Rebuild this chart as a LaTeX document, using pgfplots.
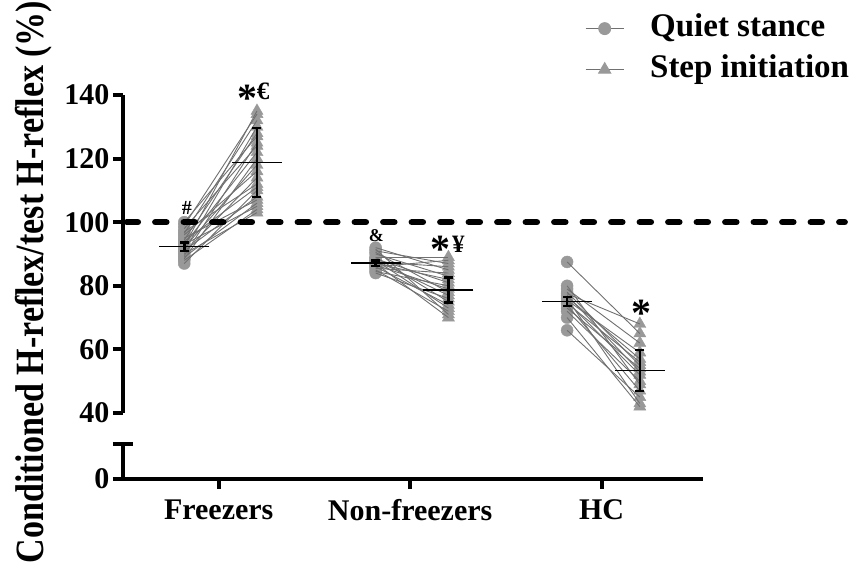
\documentclass[border=0pt]{standalone}
\usepackage{fontspec}
\setmainfont{Liberation Serif}
\usepackage{graphicx}
\usepackage{pgfplots}
\usepackage{pgfplotstable}
\pgfplotsset{compat=1.18}

\definecolor{dot}{gray}{0.60}
\definecolor{pair}{gray}{0.44}

% individual subjects: q = quiet stance, s = step initiation
\pgfplotstableread{
q s
87 110
88 104
88.5 120
89 106
89.5 125
90 103
90.5 114
91 130
91 108
92 118
92.5 135
93 105
93 122
94 111
94.5 128
95 107
96 116
96.5 132
97 112
98 124
99 134
100 127
}\freezers
\pgfplotstableread{
q s
84 76
84.5 80
85 72
85.5 84
86 88
86 74
86.5 79
87 70
87 82
87.5 86
88 77
88 73
88.5 81
89 89
89 75
90 83
90.5 78
91 87
91.5 71
92 85
}\nonfreezers
\pgfplotstableread{
q s
66 45
70 42
72 50
73 54
74 47
74.5 56
75 52
75.5 59
76 43
76.5 57
77 53
77.5 68
78 55
79 62
80 49
87.5 65
}\hc
% group means
\pgfplotstableread{
x m
0.82 92.3
1.20 118.7
1.82 87.1
2.20 78.7
2.82 75.0
3.20 53.3
}\means
% lower and upper ends of the error bars
\pgfplotstableread{
x y
0.82 91.0
0.82 93.6
nan nan
1.20 107.85
1.20 129.55
nan nan
1.82 86.25
1.82 87.95
nan nan
2.20 74.75
2.20 82.65
nan nan
2.82 73.6
2.82 76.4
nan nan
3.20 46.85
3.20 59.75
}\errbars

\pgfplotsset{
  prism/.style={
    scale only axis, width=580pt, xmin=0.5, xmax=3.53,
    axis line style={line width=4pt, black},
    tick style={line width=4pt, black},
    major tick length=10pt, tick align=outside,
    tick label style={font=\fontsize{30}{36}\selectfont\bfseries},
    /pgf/number format/assume math mode=true,
  },
  qmark/.style={forget plot, only marks, mark=*, mark size=6pt,
    mark options={draw=dot, fill=dot}},
  smark/.style={forget plot, only marks, mark=triangle*, mark size=7pt,
    mark options={draw=dot, fill=dot}},
  pairline/.style={forget plot, pair, line width=0.9pt,
    quiver={u=0.38, v=\thisrow{s}-\thisrow{q}}},
}

\begin{document}
\begin{tikzpicture}
\useasboundingbox (-123pt,-85pt) rectangle (734pt,479pt);

% bottom piece of the broken y axis, carries the x axis
\begin{axis}[prism, height=35pt, ymin=0, ymax=10,
  axis x line*=bottom, axis y line*=left,
  ytick={0}, extra y ticks={10}, extra y tick labels={},
  extra y tick style={tick align=center, major tick length=20pt},
  xtick={1,2,3}, xticklabels={Freezers,Non-freezers,HC},
  xticklabel style={yshift=-7pt},
]
\end{axis}

\begin{axis}[prism, at={(0pt,66pt)}, anchor=south west,
  height=318pt, ymin=40, ymax=140, clip=false, clip marker paths=true,
  axis x line=none, axis y line*=left, ytick={40,60,...,140},
  legend cell align=left,
  legend image code/.code={\draw[mark repeat=2, mark phase=2, #1]
    plot coordinates {(0pt,0pt) (19pt,0pt) (38pt,0pt)};},
  legend style={draw=none, fill=none, inner sep=0pt, outer sep=0pt,
    at={(axis description cs:0.797,1.259)}, anchor=north west,
    column sep=26pt, row sep=9pt,
    nodes={inner sep=0pt, text height=24pt, text depth=8pt},
    font=\fontsize{33}{40}\selectfont\bfseries},
]
\addlegendimage{pair, line width=0.9pt, mark=*, mark size=6pt,
  mark options={draw=dot, fill=dot}}
\addlegendentry{Quiet stance}
\addlegendimage{pair, line width=0.9pt, mark=triangle*, mark size=7pt,
  mark options={draw=dot, fill=dot}}
\addlegendentry{Step initiation}

\addplot[qmark] table[x expr=0.82, y=q] {\freezers};
\addplot[smark] table[x expr=1.20, y=s] {\freezers};
\addplot[qmark] table[x expr=1.82, y=q] {\nonfreezers};
\addplot[smark] table[x expr=2.20, y=s] {\nonfreezers};
\addplot[qmark] table[x expr=2.82, y=q] {\hc};
\addplot[smark] table[x expr=3.20, y=s] {\hc};

\addplot[pairline] table[x expr=0.82, y=q] {\freezers};
\addplot[pairline] table[x expr=1.82, y=q] {\nonfreezers};
\addplot[pairline] table[x expr=2.82, y=q] {\hc};

% reference line at 100 %
\draw[black, line width=6.5pt, line cap=round, dash pattern=on 11pt off 17.5pt]
  (axis cs:0.52,100) -- (axis cs:4.27,100);

% error bars with caps at both ends
\addplot[forget plot, black, line width=2.5pt, unbounded coords=jump,
  mark=-, mark size=4.5pt, mark options={solid}]
  table[x=x, y=y] {\errbars};
% mean lines
\addplot[forget plot, only marks, black, mark=-, mark size=25pt,
  mark options={line width=1.5pt}]
  table[x=x, y=m] {\means};

% significance marks
\node[font=\fontsize{20}{20}\selectfont\bfseries] at (axis cs:0.834,104.5) {\#};
\node[font=\fontsize{40}{40}\selectfont\bfseries] at (axis cs:1.150,139) {*};
\node[font=\fontsize{25}{25}\selectfont\bfseries] at (axis cs:1.232,141) {€};
\node[font=\fontsize{18}{18}\selectfont\bfseries] at (axis cs:1.824,95.7) {\&};
\node[font=\fontsize{40}{40}\selectfont\bfseries] at (axis cs:2.158,91.5) {*};
\node[font=\fontsize{25}{25}\selectfont\bfseries] at (axis cs:2.252,93) {¥};
\node[font=\fontsize{40}{40}\selectfont\bfseries] at (axis cs:3.21,71.5) {*};
\end{axis}

\node[rotate=90, anchor=base, font=\fontsize{34}{40}\selectfont\bfseries]
  at (-79pt,197pt) {\scalebox{1}[1.18]{Conditioned H-reflex/test H-reflex (\%)}};
\end{tikzpicture}
\end{document}
